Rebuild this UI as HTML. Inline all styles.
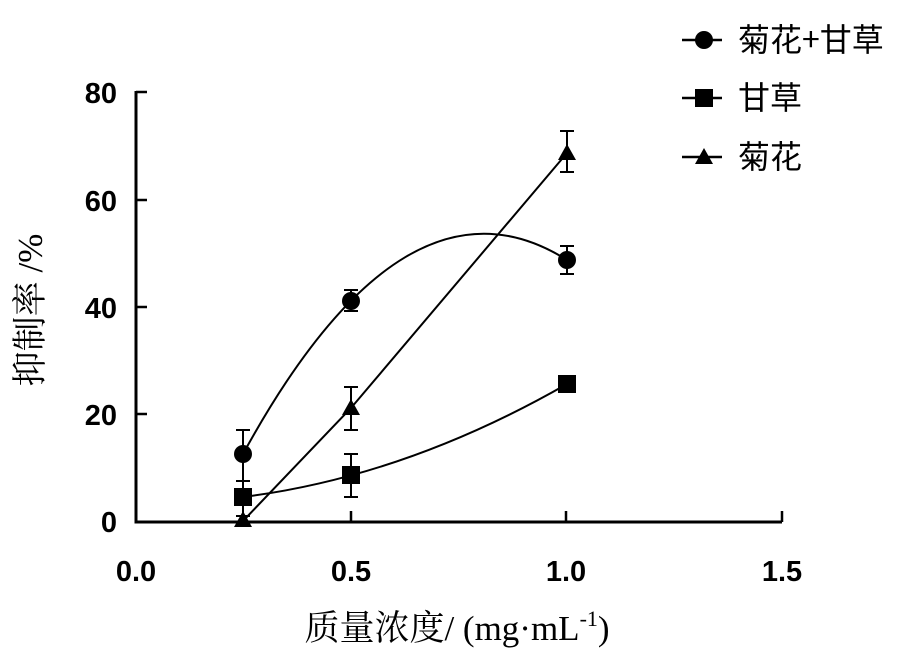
<!DOCTYPE html>
<html><head><meta charset="utf-8"><style>
body{margin:0;background:#fff;}
</style></head><body>
<svg width="915" height="659" viewBox="0 0 915 659" xmlns="http://www.w3.org/2000/svg">
<g stroke="#000" fill="none">
<path d="M136 91V522H782" stroke-width="3"/>
<path d="M136 92h11M136 200h11M136 307h11M136 414h11M351 522v-11M566 522v-11M782 522v-11" stroke-width="2.5"/>
<path d="M243 454Q405 157.6 567 260" stroke-width="2"/>
<path d="M243 497Q405 476.7 567 384" stroke-width="2"/>
<path d="M243 521L351 408L567 153" stroke-width="2"/>
<g stroke-width="2">
<path d="M243 481V430M236 430h14M236 481h14"/>
<path d="M351 311V290M344 290h14M344 311h14"/>
<path d="M567 274V246M560 246h14M560 274h14"/>
<path d="M243 516V481M236 481h14M236 516h14"/>
<path d="M351 497V454M344 454h14M344 497h14"/>
<path d="M351 430V387M344 387h14M344 430h14"/>
<path d="M567 172V131M560 131h14M560 172h14"/>
</g>
</g>
<g fill="#000">
<circle cx="243" cy="454" r="9"/><circle cx="351" cy="301" r="9"/><circle cx="567" cy="260" r="9"/>
<rect x="234" y="488" width="18" height="18"/><rect x="342" y="466" width="18" height="18"/><rect x="558" y="375" width="18" height="18"/>
<path d="M243 511l9 16h-18z"/><path d="M351 399l9 16h-18z"/><path d="M567 144l9 16h-18z"/>
</g>
<g font-family="Liberation Sans, sans-serif" font-weight="bold" font-size="29" text-anchor="end">
<text x="117" y="103">80</text><text x="117" y="211">60</text><text x="117" y="318">40</text><text x="117" y="425">20</text><text x="117" y="532">0</text>
</g>
<g font-family="Liberation Sans, sans-serif" font-weight="bold" font-size="29" text-anchor="middle">
<text x="136" y="581">0.0</text><text x="351" y="581">0.5</text><text x="566" y="581">1.0</text><text x="782" y="581">1.5</text>
</g>
<text transform="translate(42 310) rotate(-90)" text-anchor="middle" font-family="Liberation Serif, 'Noto Serif CJK SC', serif" font-size="35">抑制率 /%</text>
<text x="457" y="640" text-anchor="middle" font-family="Liberation Serif, 'Noto Serif CJK SC', serif" font-size="35">质量浓度/ (mg·mL<tspan dy="-14" font-size="22">-1</tspan><tspan dy="14">)</tspan></text>
<g stroke="#000" stroke-width="2.5"><path d="M682 40h40M682 98h40M682 157h40"/></g>
<circle cx="704" cy="40" r="9"/>
<rect x="695" y="89" width="18" height="18"/>
<path d="M704 148l9 16h-18z"/>
<g font-family="'Noto Sans CJK SC', sans-serif" font-size="32">
<text x="738" y="51">菊花+甘草</text><text x="738" y="109">甘草</text><text x="738" y="168">菊花</text>
</g>
</svg>
</body></html>
